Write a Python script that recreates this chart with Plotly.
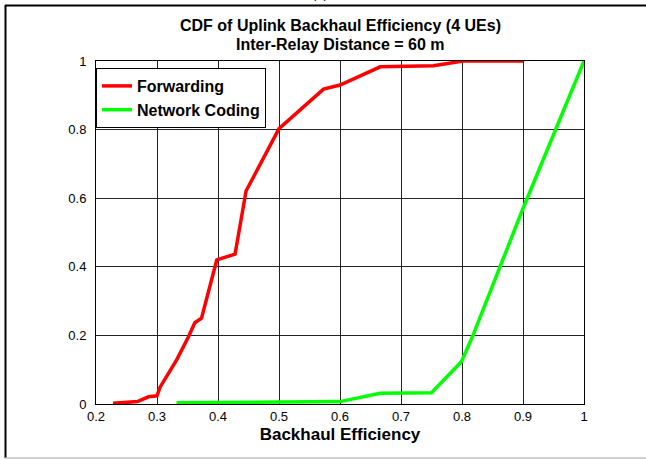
import plotly.graph_objects as go

# Empirical CDF samples of uplink backhaul efficiency
fwd_x = [0.228, 0.268, 0.286, 0.300, 0.305, 0.332, 0.351, 0.362, 0.373, 0.398,
         0.428, 0.446, 0.500, 0.573, 0.600, 0.666, 0.753, 0.786, 0.802, 0.900]
fwd_y = [0.002, 0.007, 0.021, 0.024, 0.049, 0.128, 0.194, 0.237, 0.250, 0.420,
         0.437, 0.621, 0.803, 0.918, 0.930, 0.983, 0.986, 0.997, 1.000, 1.000]

nc_x = [0.332, 0.534, 0.600, 0.666, 0.750, 0.799, 0.818, 0.900, 1.000]
nc_y = [0.004, 0.007, 0.007, 0.031, 0.033, 0.123, 0.200, 0.570, 1.000]

x_ticks = [0.2, 0.3, 0.4, 0.5, 0.6, 0.7, 0.8, 0.9, 1.0]
x_tick_text = ["0.2", "0.3", "0.4", "0.5", "0.6", "0.7", "0.8", "0.9", "1"]
y_ticks = [0, 0.2, 0.4, 0.6, 0.8, 1.0]
y_tick_text = ["0", "0.2", "0.4", "0.6", "0.8", "1"]

FONT = "Liberation Sans, Arial, sans-serif"

fig = go.Figure()
fig.add_trace(go.Scatter(x=fwd_x, y=fwd_y, mode="lines", name="Forwarding",
                         line=dict(color="#ff0000", width=3.5)))
fig.add_trace(go.Scatter(x=nc_x, y=nc_y, mode="lines", name="Network Coding",
                         line=dict(color="#00ff00", width=3.5)))

W, H = 646, 459
L, R, T, B = 96, 62, 61, 55
pw, ph = W - L - R, H - T - B


def px(xp):
    return (xp - L) / pw


def py(yp):
    return (H - B - yp) / ph


# outer figure frame
shapes = [
    dict(type="line", xref="paper", yref="paper", x0=px(5), x1=px(646), y0=py(5.5), y1=py(5.5),
         line=dict(color="#000000", width=2)),
    dict(type="line", xref="paper", yref="paper", x0=px(5.5), x1=px(5.5), y0=py(5), y1=py(458),
         line=dict(color="#000000", width=2)),
    dict(type="line", xref="paper", yref="paper", x0=px(5), x1=px(646), y0=py(458), y1=py(458),
         line=dict(color="#c0c0c0", width=1.5)),
]

fig.update_layout(
    width=W, height=H,
    margin=dict(l=L, r=R, t=T, b=B),
    paper_bgcolor="white", plot_bgcolor="white",
    font=dict(family=FONT, color="black"),
    shapes=shapes,
    showlegend=True,
    legend=dict(x=0.0, y=py(68), xanchor="left", yanchor="top",
                bgcolor="white", bordercolor="black", borderwidth=1,
                font=dict(size=16, family=FONT, weight="bold"),
                itemwidth=30, tracegroupgap=0),
    annotations=[
        dict(text="<b>CDF of Uplink Backhaul Efficiency (4 UEs)</b>", xref="paper", yref="paper",
             x=0.5, y=py(25), xanchor="center", yanchor="middle", showarrow=False,
             font=dict(size=16, family=FONT)),
        dict(text="<b>Inter-Relay Distance = 60 m</b>", xref="paper", yref="paper",
             x=0.5, y=py(44), xanchor="center", yanchor="middle", showarrow=False,
             font=dict(size=16, family=FONT)),
        dict(text="(a)", xref="paper", yref="paper",
             x=px(320), y=py(3), xanchor="center", yanchor="bottom", showarrow=False,
             font=dict(size=13, family=FONT)),
    ],
)

fig.update_xaxes(range=[0.2, 1.0], tickvals=x_ticks, ticktext=x_tick_text,
                 showgrid=True, gridcolor="#222222", gridwidth=1,
                 showline=True, linecolor="black", linewidth=1, mirror=True,
                 ticks="", zeroline=False, ticklabelstandoff=0,
                 tickfont=dict(size=13, family=FONT),
                 title=dict(text="<b>Backhaul Efficiency</b>", font=dict(size=17, family=FONT),
                            standoff=5))
fig.update_yaxes(range=[0, 1.0], tickvals=y_ticks, ticktext=y_tick_text,
                 showgrid=True, gridcolor="#222222", gridwidth=1,
                 showline=True, linecolor="black", linewidth=1, mirror=True,
                 ticks="", zeroline=False, ticklabelstandoff=6,
                 tickfont=dict(size=13, family=FONT))

fig.write_html("out.html")
